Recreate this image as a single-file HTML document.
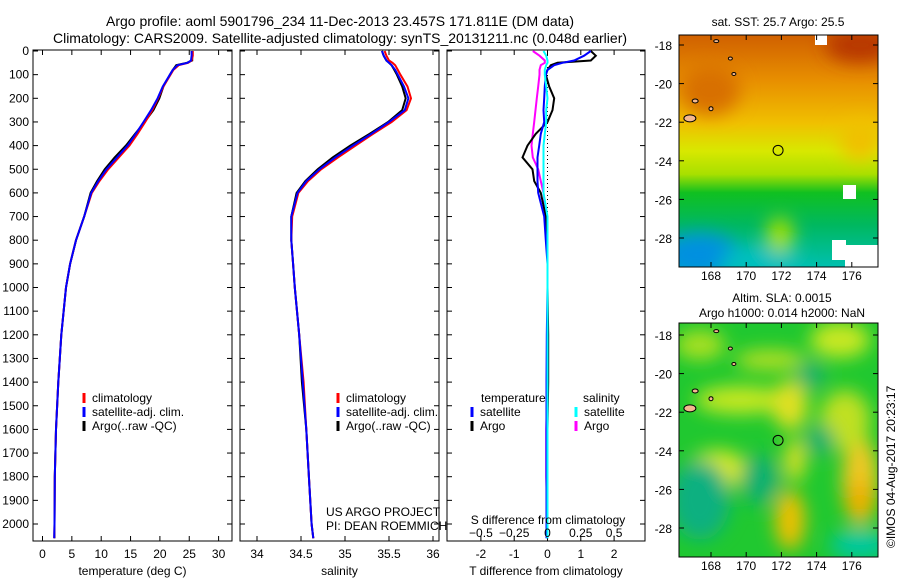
<!DOCTYPE html>
<html><head><meta charset="utf-8"><style>
body{margin:0;background:#fff;}
svg{display:block;font-family:"Liberation Sans",sans-serif;}
text{fill:#000;}
</style></head><body>
<svg id="fig" width="900" height="580" viewBox="0 0 900 580">
<defs>
<filter id="blur8"><feGaussianBlur stdDeviation="9"/></filter>
<clipPath id="clipTop"><rect x="679" y="35" width="199" height="232"/></clipPath>
<clipPath id="clipBot"><rect x="679" y="323" width="199" height="234"/></clipPath>
<linearGradient id="sstGrad" x1="0" y1="0" x2="0" y2="1">
<stop offset="0" stop-color="#d06000"/>
<stop offset="0.2" stop-color="#e89000"/>
<stop offset="0.38" stop-color="#f0c000"/>
<stop offset="0.5" stop-color="#d8e800"/>
<stop offset="0.6" stop-color="#a8e000"/>
<stop offset="0.68" stop-color="#10c020"/>
<stop offset="0.82" stop-color="#00b860"/>
<stop offset="1" stop-color="#00c0b0"/>
</linearGradient>
</defs>
<g>
<text x="340" y="26" font-size="14" text-anchor="middle">Argo profile: aoml 5901796_234 11-Dec-2013 23.457S 171.811E (DM data)</text>
<text x="340" y="43" font-size="14" text-anchor="middle">Climatology: CARS2009. Satellite-adjusted climatology: synTS_20131211.nc (0.048d earlier)</text>
</g>
<g id="plots"></g>
<g id="maps"></g>
</svg>
<script>
// ---- data ----
const depths = [0,20,40,50,60,80,100,150,200,250,300,350,400,450,500,550,600,700,800,900,1000,1200,1400,1600,1800,2000,2060];
const tempClim = [25.6,25.6,25.4,24.8,23.2,22.3,21.8,20.6,19.7,18.7,17.5,16.2,14.8,13.0,11.2,9.7,8.4,7.1,5.7,4.7,4.0,3.2,2.7,2.3,2.1,2.05,2.0];
const tempSat  = [25.4,25.4,25.3,24.7,23.0,22.2,21.7,20.5,19.6,18.5,17.2,15.9,14.5,12.7,10.9,9.5,8.3,7.1,5.7,4.7,4.0,3.2,2.7,2.3,2.1,2.05,2.0];
const tempArgo = [25.4,25.5,25.5,24.6,22.8,22.2,21.7,20.6,19.9,18.9,17.4,15.8,14.2,12.3,10.6,9.3,8.2,7.1,5.7,4.7,4.0,3.2,2.7,2.3,2.1,2.05,2.05];
const salClim = [35.45,35.47,35.5,35.54,35.57,35.6,35.63,35.71,35.75,35.7,35.53,35.32,35.12,34.92,34.73,34.58,34.47,34.4,34.39,34.41,34.43,34.48,34.53,34.56,34.59,34.62,34.64];
const salSat  = [35.42,35.44,35.47,35.5,35.53,35.57,35.6,35.67,35.72,35.68,35.5,35.3,35.09,34.89,34.71,34.56,34.46,34.39,34.39,34.41,34.43,34.48,34.52,34.56,34.59,34.62,34.64];
const salArgo = [35.42,35.44,35.47,35.5,35.53,35.56,35.59,35.65,35.69,35.65,35.49,35.28,35.06,34.86,34.69,34.55,34.45,34.39,34.39,34.41,34.43,34.48,34.51,34.56,34.59,34.62,34.64];
const tDiffSat  = [1.3,1.1,0.8,0.45,0.2,0.0,-0.05,-0.08,-0.1,-0.12,-0.1,-0.2,-0.25,-0.3,-0.3,-0.3,-0.28,-0.1,-0.05,0,0,-0.02,-0.03,-0.03,-0.03,-0.03,-0.03];
const tDiffArgo = [1.3,1.45,1.3,0.3,0.1,0.0,-0.05,0.05,0.2,0.15,0.0,-0.35,-0.6,-0.75,-0.45,-0.4,-0.2,-0.05,0,0,0,0.02,0.02,0.0,0.0,0.0,0.0];
const sDiffSat  = [-0.03,-0.01,0.0,0.0,-0.01,-0.02,-0.02,-0.01,0.0,-0.01,-0.01,-0.02,-0.03,-0.03,-0.03,-0.03,-0.03,0.0,0.0,0.0,0.0,0.0,0.0,0.0,0.0,0.0,0.0];
const sDiffArgo = [-0.11,-0.06,-0.02,-0.02,-0.05,-0.06,-0.06,-0.07,-0.08,-0.09,-0.1,-0.11,-0.12,-0.11,-0.07,-0.05,-0.03,-0.01,0.0,0.0,0.0,0.0,0.0,-0.01,-0.01,0.0,0.0];
const depthTicks = [0,100,200,300,400,500,600,700,800,900,1000,1100,1200,1300,1400,1500,1600,1700,1800,1900,2000];
const tempTicks = [0,5,10,15,20,25,30];
const salTicks = [34,34.5,35,35.5,36];
const tdTicks = [-2,-1,0,1,2];
const sdTicks = [-0.5,-0.25,0,0.25,0.5];
const latTicks = [-18,-20,-22,-24,-26,-28];
const lonTicks = [168,170,172,174,176];

const NS='http://www.w3.org/2000/svg';
function el(tag, attrs, parent, txt){
  const e=document.createElementNS(NS,tag);
  for(const k in attrs) e.setAttribute(k,attrs[k]);
  if(txt!==undefined) e.textContent=txt;
  parent.appendChild(e); return e;
}
const plots=document.getElementById('plots');
const yD = d => 51 + d*0.2365;
const xT = v => 42.5 + v*5.87;
const xS = v => 257 + (v-34)*88;
const xTD = v => 547.5 + v*33.3;
const xSD = v => 547.5 + v*133.2;

function panel(name,x0,x1,xf,ticks,fmt,label){
  const g=el('g',{},plots);
  
  
  el('rect',{x:x0,y:50,width:x1-x0,height:491,fill:'#fff',stroke:'#000','stroke-width':1},g);
  ticks.forEach(t=>{
    const x=xf(t);
    el('line',{x1:x,x2:x,y1:541,y2:536,stroke:'#000'},g);
    el('line',{x1:x,x2:x,y1:50,y2:55,stroke:'#000'},g);
    el('text',{x:x,y:558,'font-size':12,'text-anchor':'middle'},g,fmt(t));
  });
  depthTicks.forEach(d=>{
    el('line',{x1:x0,x2:x0+5,y1:yD(d),y2:yD(d),stroke:'#000'},g);
    el('line',{x1:x1,x2:x1-5,y1:yD(d),y2:yD(d),stroke:'#000'},g);
  });
  el('text',{x:(x0+x1)/2,y:575,'font-size':12,'text-anchor':'middle'},g,label);
  return g;
}
function series(g,name,vals,xf,color,w){
  const pts=vals.map((v,i)=>xf(v).toFixed(1)+','+yD(depths[i]).toFixed(1)).join(' ');
  const p=el('polyline',{points:pts,fill:'none',stroke:color,'stroke-width':w},g);
  
  
}
const dl=el('g',{},plots);


depthTicks.forEach(d=>el('text',{x:29,y:yD(d)+4,'font-size':12,'text-anchor':'end'},dl,String(d)));

const g1=panel('temperature-panel',33,232,xT,tempTicks,String,'temperature (deg C)');
series(g1,'temp-argo-line',tempArgo,xT,'#000',2);
series(g1,'temp-clim-line',tempClim,xT,'#f00',2);
series(g1,'temp-sat-line',tempSat,xT,'#00f',2);
const g2=panel('salinity-panel',240,439,xS,salTicks,String,'salinity');
series(g2,'sal-argo-line',salArgo,xS,'#000',2);
series(g2,'sal-clim-line',salClim,xS,'#f00',2);
series(g2,'sal-sat-line',salSat,xS,'#00f',2);
const g3=panel('difference-panel',447,645,xTD,tdTicks,String,'T difference from climatology');
el('line',{x1:547.5,x2:547.5,y1:51,y2:541,stroke:'#000','stroke-dasharray':'1,3'},g3);
series(g3,'sdiff-argo-line',sDiffArgo,xSD,'#f0f',2);
series(g3,'tdiff-argo-line',tDiffArgo,xTD,'#000',2);
series(g3,'tdiff-sat-line',tDiffSat,xTD,'#00f',2);
series(g3,'sdiff-sat-line',sDiffSat,xSD,'#0ff',2);
sdTicks.forEach(t=>el('text',{x:xSD(t),y:537,'font-size':12,'text-anchor':'middle'},g3,String(t).replace('-','\u2212')));
el('text',{x:548,y:524,'font-size':12,'text-anchor':'middle'},g3,'S difference from climatology');

function legend(g,x,y,items){
  items.forEach((it,i)=>{
    el('line',{x1:x,x2:x,y1:y+i*14-9,y2:y+i*14+1,stroke:it[0],'stroke-width':3},g);
    el('text',{x:x+8,y:y+i*14,'font-size':12},g,it[1]);
  });
}
legend(g1,84,402,[['#f00','climatology'],['#00f','satellite-adj. clim.'],['#000','Argo(..raw -QC)']]);
legend(g2,338,402,[['#f00','climatology'],['#00f','satellite-adj. clim.'],['#000','Argo(..raw -QC)']]);
el('text',{x:481,y:402,'font-size':12},g3,'temperature');
el('text',{x:583,y:402,'font-size':12},g3,'salinity');
legend(g3,472,416,[['#00f','satellite'],['#000','Argo']]);
legend(g3,576,416,[['#0ff','satellite'],['#f0f','Argo']]);
el('text',{x:326,y:516,'font-size':12},g2,'US ARGO PROJECT');
el('text',{x:326,y:530,'font-size':12},g2,'PI: DEAN ROEMMICH');

// ---- maps ----
const maps=document.getElementById('maps');
function mapFrame(name){
  const g=el('g',{},maps);
  
  
  return g;
}
const lonX = v => 711 + (v-168)*17.6;
function axes(g,y0,y1,latY){
  el('rect',{x:679,y:y0,width:199,height:y1-y0,fill:'none',stroke:'#000'},g);
  latTicks.forEach(l=>{
    const y=latY(l);
    el('line',{x1:679,x2:684,y1:y,y2:y,stroke:'#000'},g);
    el('line',{x1:878,x2:873,y1:y,y2:y,stroke:'#000'},g);
    el('text',{x:672,y:y+5,'font-size':12,'text-anchor':'end'},g,String(l));
  });
  lonTicks.forEach(l=>{
    const x=lonX(l);
    el('line',{x1:x,x2:x,y1:y0,y2:y0+5,stroke:'#000'},g);
    el('line',{x1:x,x2:x,y1:y1,y2:y1-5,stroke:'#000'},g);
    el('text',{x:x,y:y1+13,'font-size':12,'text-anchor':'middle'},g,String(l));
  });
  el('circle',{cx:lonX(171.811),cy:latY(-23.457),r:5,fill:'none',stroke:'#000'},g);
  [[166.8,-21.8,6,3.5],[168.3,-17.8,2.5,1.5],[169.1,-18.7,2,1.5],[169.3,-19.5,2,1.5],[167.1,-20.9,3,2],[168,-21.3,2,2]].forEach(p=>{
    el('ellipse',{cx:lonX(p[0]),cy:latY(p[1]),rx:p[2],ry:p[3],fill:'#f4b890',stroke:'#000','stroke-width':1},g);
  });
}
const latTop = l => 45 + (-18-l)*19.3;
const gm1=mapFrame('sst-map');
const c1=el('g',{'clip-path':'url(#clipTop)'},gm1);
el('rect',{x:679,y:35,width:199,height:232,fill:'url(#sstGrad)'},c1);
const b1=el('g',{filter:'url(#blur8)'},c1);
el('ellipse',{cx:860,cy:45,rx:35,ry:18,fill:'#b83800'},b1);
el('ellipse',{cx:700,cy:255,rx:40,ry:22,fill:'#0090e0'},b1);
el('ellipse',{cx:760,cy:262,rx:40,ry:14,fill:'#00c0c0'},b1);
el('ellipse',{cx:780,cy:235,rx:14,ry:18,fill:'#a0e000'},b1);
el('ellipse',{cx:860,cy:140,rx:20,ry:20,fill:'#f0c000'},b1);
el('ellipse',{cx:710,cy:90,rx:30,ry:25,fill:'#d87000'},b1);
el('rect',{x:845,y:245,width:33,height:22,fill:'#fff'},c1);
el('rect',{x:832,y:240,width:14,height:20,fill:'#fff'},c1);
el('rect',{x:843,y:185,width:13,height:14,fill:'#fff'},c1);
el('rect',{x:815,y:35,width:12,height:10,fill:'#fff'},c1);
axes(gm1,35,267,latTop);
el('text',{x:778,y:26,'font-size':12,'text-anchor':'middle'},gm1,'sat. SST: 25.7 Argo: 25.5');
const latBot = l => 335 + (-18-l)*19.3;
const gm2=mapFrame('sla-map');
const c2=el('g',{'clip-path':'url(#clipBot)'},gm2);
el('rect',{x:679,y:323,width:199,height:234,fill:'#20c830'},c2);
const b2=el('g',{filter:'url(#blur8)'},c2);
[[700,345,25,15,'#a8e020'],[840,340,30,18,'#c8e820'],[740,400,45,14,'#c8e820'],[790,405,18,25,'#e0e020'],[795,460,10,22,'#e0e020'],[860,480,18,45,'#f0c820'],[860,500,14,20,'#f0b000'],[718,470,30,20,'#d8e820'],[790,520,15,30,'#f0c000'],[770,360,35,10,'#b8e020'],[845,420,25,30,'#c0e020']].forEach(e=>
  el('ellipse',{cx:e[0],cy:e[1],rx:e[2],ry:e[3],fill:e[4]},b2));
[[700,500,30,40,'#10b080'],[760,480,20,25,'#10b070'],[860,545,30,15,'#00c8a0'],[820,440,15,15,'#10b070'],[810,375,14,14,'#10b070']].forEach(e=>
  el('ellipse',{cx:e[0],cy:e[1],rx:e[2],ry:e[3],fill:e[4]},b2));
axes(gm2,323,557,latBot);
el('text',{x:782,y:302,'font-size':12,'text-anchor':'middle'},gm2,'Altim. SLA: 0.0015');
el('text',{x:782,y:317,'font-size':12,'text-anchor':'middle'},gm2,'Argo h1000: 0.014 h2000: NaN');
const cr=el('text',{x:895,y:548,'font-size':12,transform:'rotate(-90 895 548)'},maps,'©IMOS 04-Aug-2017 20:23:17');


</script>
</body></html>
